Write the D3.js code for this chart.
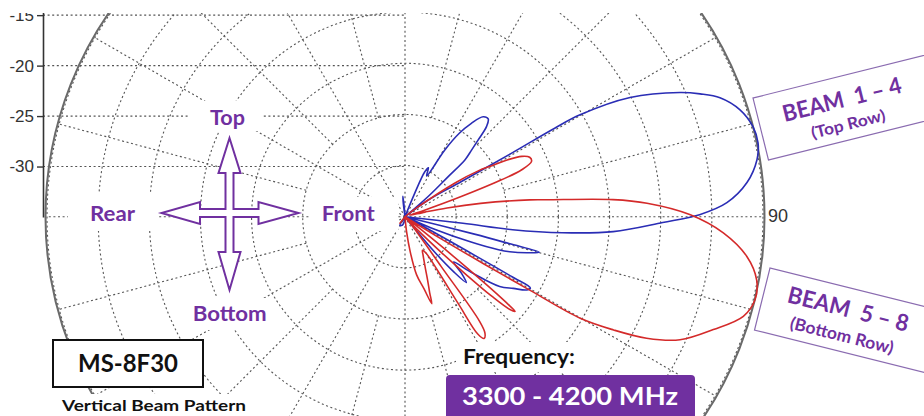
<!DOCTYPE html>
<html><head><meta charset="utf-8">
<script src="https://cdn.jsdelivr.net/npm/d3@7"></script>
<style>
body{margin:0;background:#fff;}
svg{display:block;}
.lbl{font-family:Lato,'Open Sans',sans-serif;font-weight:700;}
</style>
</head><body>
<svg id="chart" width="924" height="416"></svg>
<script>
// ---- data (angle in degrees clockwise from top, gain in dB) ----
const blueAngles = [0,20,22.5,23.8,25.6,28,30.8,33,35.4,38,40.4,42.1,43.6,45,46.5,47.1,48.9,50.5,52,54.4,58.1,59.2,59.4,59.8,62.1,65.7,67.4,69.3,72.3,75.5,78.2,80.8,84.3,87.5,89.6,91.3,94.1,95.8,96.9,96.5,97.5,103.5,104.1,104.5,104.8,106.5,108.5,109.5,111,113,115,118,119,119.3,119.6,121,123.5,126.4,130,133,135,137,138.5,140,142,185,195,210,220,350,353,354.3,356];
const blueGains  = [-35,-35,-32.5,-30.2,-29.7,-30.5,-27.4,-25.3,-23.8,-22.6,-22.45,-23.1,-24.6,-25.8,-26.9,-29.2,-32,-35,-35,-32.2,-28.5,-22.9,-18,-15.2,-10.1,-5.5,-3.75,-2.08,-0.62,0.14,0.26,-0.14,-1.4,-3.5,-6.2,-9.8,-14.6,-19.5,-24.4,-29.3,-35,-35,-28,-24.5,-21.4,-22.6,-24.2,-25.3,-28,-32,-35,-33,-27,-23,-20.9,-21.1,-22.3,-23.5,-26.5,-28.5,-27.2,-26.2,-27.8,-30.5,-35,-35,-34.2,-34,-35,-35,-33.5,-33,-34.5];
const redAngles  = [0,50,53,56,58,59.4,61,62.7,64.5,66.4,68.1,69.1,70.3,71.8,74,77,78.2,80,82.3,83.2,85.3,86.8,89.6,92.9,96.6,100.2,103.3,106.4,110.1,114.1,116.7,118.5,120.1,120.5,120.9,121.5,123,127,129,129.8,130.3,130.7,131.5,132.5,133.4,134.5,136.5,139,142,144,144.5,145.5,147,148.2,148.5,148.8,150,152.5,155,158.4,160.4,162,162.9,165.2,168.7,171.5,174,177,210,218,226];
const redGains   = [-35,-35,-33.5,-29.1,-26.5,-25.3,-23.5,-22.15,-21.5,-21.5,-22.7,-24.9,-29.1,-33,-34.5,-33,-30.8,-27.5,-22.7,-21,-14.6,-11.3,-7.1,-3.84,-1.37,-0.07,0.17,-0.52,-2.9,-5.54,-8.56,-11.8,-15.2,-20.8,-26,-31,-35,-35,-31,-25,-22,-20.8,-21.3,-23.5,-26.7,-30,-33.5,-35,-33.5,-29,-22.5,-21.2,-20.8,-21.5,-25,-29,-30.9,-31.3,-30.8,-29.6,-28.4,-27.2,-26.1,-27.7,-29.2,-31.5,-33.5,-35,-35,-34.2,-35];
const ringValues = [-30,-25,-20,-15,-10,-5,0];
const axisTicks  = [-30,-25,-20,-15];
const spokeAngles = d3.range(0,360,15);
const angleLabel = "90";

// ---- layout ----
const cx = 405, cy = 216.7, R = 358;
const svg = d3.select("#chart");
const purple = "#7030A0";
const rScale = d3.scaleLinear().domain([-35,0]).range([0,R]);
const rad = v => Math.max(0, rScale(v));
const yAxis = d3.scaleLinear().domain([-35,-13.3]).range([217,-2]);

svg.append("defs").append("clipPath").attr("id","clip")
  .append("rect").attr("x",0).attr("y",13).attr("width",924).attr("height",403);

const chart = svg.append("g").attr("clip-path","url(#clip)");
const grid = chart.append("g").attr("fill","none").attr("stroke","#555")
  .attr("stroke-width",1.1).attr("stroke-dasharray","2,2.6");
const polar = chart.append("g").attr("transform",`translate(${cx},${cy})`);

// rings
polar.append("g").attr("fill","none").attr("stroke","#555").attr("stroke-width",1.1)
  .attr("stroke-dasharray","2,2.6")
  .selectAll("circle").data(ringValues).join("circle").attr("r",d=>rad(d));
polar.append("circle").attr("r",R+1.5).attr("fill","none").attr("stroke","#6a6a6a").attr("stroke-width",2);

// spokes
polar.append("g").attr("stroke","#555").attr("stroke-width",1.1).attr("stroke-dasharray","2,2.6")
  .selectAll("line").data(spokeAngles).join("line")
  .each(function(a){
    const t = a*Math.PI/180;
    const r0 = (a%30===0) ? 0 : rad(-25);
    const p0 = d3.pointRadial(t,r0), p1 = d3.pointRadial(t,R);
    d3.select(this).attr("x1",p0[0]).attr("y1",p0[1]).attr("x2",p1[0]).attr("y2",p1[1]);
  });

// horizontal grid lines from the left axis
grid.selectAll("line").data(axisTicks).join("line")
  .attr("x1",43).attr("x2",cx).attr("y1",d=>yAxis(d)).attr("y2",d=>yAxis(d));

// left axis
const ax = chart.append("g").attr("transform","translate(43,0)")
  .call(d3.axisLeft(yAxis).tickValues(axisTicks).tickSize(6).tickSizeOuter(0).tickPadding(3).tickFormat(d=>String(d)));
ax.select(".domain").attr("stroke","#333").attr("stroke-width",1.6);
ax.selectAll(".tick line").attr("stroke","#333").attr("stroke-width",1.4);
ax.selectAll(".tick text").attr("font-family","'Liberation Sans',Arial,sans-serif").attr("font-size",17).attr("fill","#333");

// curves
const line = d3.lineRadial().angle(d=>d.a*Math.PI/180).radius(d=>rad(d.g))
  .curve(d3.curveCatmullRomClosed.alpha(0.5));
const blue = blueAngles.map((a,i)=>({a,g:blueGains[i]}));
const red = redAngles.map((a,i)=>({a,g:redGains[i]}));
polar.append("path").datum(blue).attr("d",line).attr("fill","none").attr("stroke","#2a2db5").attr("stroke-width",1.6).attr("stroke-linejoin","round");
polar.append("path").datum(red).attr("d",line).attr("fill","none").attr("stroke","#d42a2a").attr("stroke-width",1.6).attr("stroke-linejoin","round");

// 90 label
svg.append("text").attr("x",768).attr("y",222).attr("font-family","'Liberation Sans',Arial,sans-serif")
  .attr("font-size",18).attr("fill","#333").text(angleLabel);

// direction labels with white backing
const dirLabels = [
  {t:"Top", x:227.5, y:125, w:35, bx:190, by:101, bw:73, bh:30},
  {t:"Rear", x:112.5, y:221, w:45, bx:68, by:193, bw:90, bh:38},
  {t:"Front", x:348.3, y:221, w:53, bx:310, by:197, bw:88, bh:34},
  {t:"Bottom", x:229.7, y:321, w:74, bx:186, by:298, bw:87, bh:32}
];
const dl = svg.append("g");
dl.selectAll("rect").data(dirLabels).join("rect")
  .attr("x",d=>d.bx).attr("y",d=>d.by).attr("width",d=>d.bw).attr("height",d=>d.bh).attr("fill","#fff");
dl.selectAll("text").data(dirLabels).join("text").attr("class","lbl")
  .attr("x",d=>d.x).attr("y",d=>d.y).attr("text-anchor","middle").attr("font-size",20)
  .attr("fill",purple).attr("textLength",d=>d.w).attr("lengthAdjust","spacingAndGlyphs").text(d=>d.t);

// four-way arrow
const arrowPts = [[0,-75],[11,-40],[4,-40],[4,-4],[29,-4],[29,-11],[69,0],[29,11],[29,4],[4,4],[4,39],[11,39],[0,77],[-11,39],[-4,39],[-4,4],[-29.5,4],[-29.5,11],[-68,0],[-29.5,-11],[-29.5,-4],[-4,-4],[-4,-40],[-11,-40]];
svg.append("path").attr("transform","translate(229.5,213)")
  .attr("d",d3.line()(arrowPts)+"Z").attr("fill","#fff").attr("stroke",purple).attr("stroke-width",2).attr("stroke-linejoin","miter");

// beam boxes
function beamBox(tx,ty,rot,l1,l2,y1,y2,w1,w2,fs1,fs2){
  const g = svg.append("g").attr("transform",`translate(${tx},${ty}) rotate(${rot})`);
  g.append("rect").attr("x",0).attr("y",0).attr("width",210).attr("height",64)
    .attr("fill","#fff").attr("stroke","#8a6bb0").attr("stroke-width",1.2);
  g.append("text").attr("class","lbl").attr("x",86).attr("y",y1).attr("text-anchor","middle")
    .attr("font-size",fs1).attr("fill",purple)
    .attr("textLength",w1).attr("lengthAdjust","spacingAndGlyphs").text(l1);
  g.append("text").attr("class","lbl").attr("x",86).attr("y",y2).attr("text-anchor","middle")
    .attr("font-size",fs2).attr("fill",purple)
    .attr("textLength",w2).attr("lengthAdjust","spacingAndGlyphs").text(l2);
}
beamBox(753,98,-14,"BEAM\u00a0\u00a01\u00a0\u2013\u00a04","(Top Row)",31,54,122,76,23,16);
beamBox(770,268,14,"BEAM\u00a0\u00a05\u00a0\u2013\u00a08","(Bottom Row)",29,54,124,106,23,17);

// model box
svg.append("rect").attr("x",53).attr("y",340).attr("width",150).attr("height",47)
  .attr("fill","#fff").attr("stroke","#111").attr("stroke-width",2);
svg.append("text").attr("class","lbl").attr("x",128).attr("y",372).attr("text-anchor","middle")
  .attr("font-size",24).attr("fill","#111").attr("textLength",100).attr("lengthAdjust","spacingAndGlyphs").text("MS-8F30");
svg.append("rect").attr("x",58).attr("y",394).attr("width",194).attr("height",22).attr("fill","#fff");
svg.append("text").attr("class","lbl").attr("x",154).attr("y",411).attr("text-anchor","middle")
  .attr("font-size",16).attr("fill","#111").attr("textLength",184).attr("lengthAdjust","spacingAndGlyphs").text("Vertical Beam Pattern");

// frequency
svg.append("rect").attr("x",456).attr("y",342).attr("width",128).attr("height",30).attr("fill","#fff");
svg.append("text").attr("class","lbl").attr("x",519).attr("y",364).attr("text-anchor","middle")
  .attr("font-size",20).attr("fill","#111").attr("textLength",112).attr("lengthAdjust","spacingAndGlyphs").text("Frequency:");
svg.append("rect").attr("x",446).attr("y",375).attr("width",249).attr("height",46).attr("rx",4)
  .attr("fill",purple);
svg.append("text").attr("class","lbl").attr("x",570).attr("y",405).attr("text-anchor","middle")
  .attr("font-size",25).attr("fill","#fff").attr("textLength",216).attr("lengthAdjust","spacingAndGlyphs").text("3300 - 4200 MHz");
</script>
</body></html>
